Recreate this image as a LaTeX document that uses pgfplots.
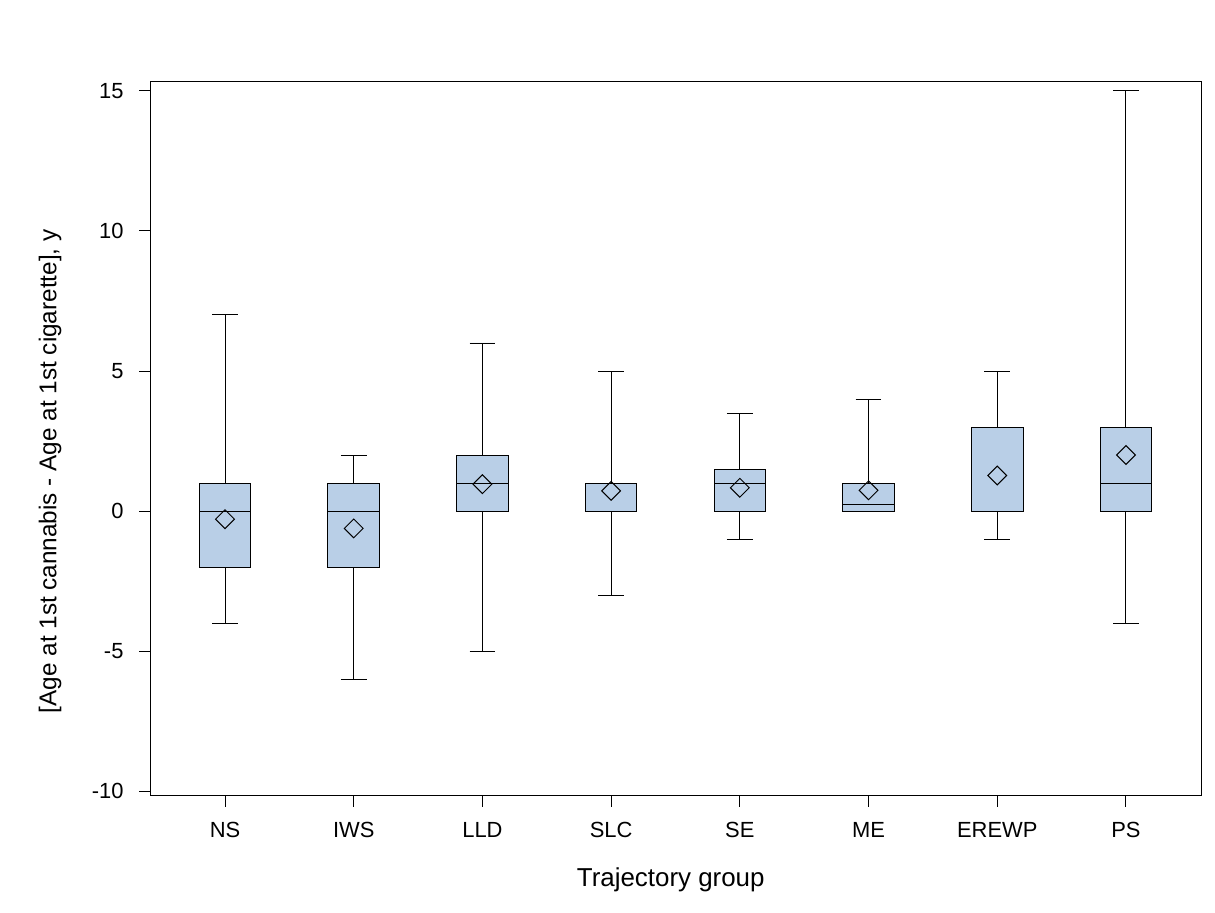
\documentclass[border=0pt]{standalone}
\usepackage{pgfplots}
\pgfplotsset{compat=1.18}
\usepgfplotslibrary{statistics}
\usepackage{fontspec}
\setmainfont{Liberation Sans}
\definecolor{boxblue}{RGB}{185,207,231}
\pgfdeclareplotmark{sqdiamond}{%
  \pgfpathmoveto{\pgfqpoint{0pt}{\pgfplotmarksize}}%
  \pgfpathlineto{\pgfqpoint{\pgfplotmarksize}{0pt}}%
  \pgfpathlineto{\pgfqpoint{0pt}{-\pgfplotmarksize}}%
  \pgfpathlineto{\pgfqpoint{-\pgfplotmarksize}{0pt}}%
  \pgfpathclose\pgfusepathqstroke}
\begin{document}
\begin{tikzpicture}
\begin{axis}[
  name=ax,
  scale only axis,
  width=525bp, height=356.5bp,
  xmin=0.425, xmax=8.583,
  ymin=-10.14, ymax=15.32,
  xtick={1,2,3,4,5,6,7,8},
  xticklabels={NS,IWS,LLD,SLC,SE,ME,EREWP,PS},
  ytick={-10,-5,0,5,10,15},
  tick align=outside,
  tick pos=left,
  major tick length=5.75bp,
  axis line style={line width=0.5pt},
  every tick/.style={black, line width=0.5pt},
  tick label style={font=\fontsize{11}{13}\selectfont},
  /pgf/number format/assume math mode=true,
  xticklabel style={yshift=-4.5bp},
  yticklabel style={xshift=-4.5bp},
  xlabel={Trajectory group},
  ylabel={[Age at 1st cannabis - Age at 1st cigarette], y},
  xlabel style={font=\fontsize{13}{15}\selectfont, at={(rel axis cs:0.495,-0.119)}, anchor=center},
  ylabel style={font=\fontsize{12.2}{15}\selectfont, at={(rel axis cs:-0.0962,0.454)}, anchor=center, rotate=0},
  boxplot/draw direction=y,
  boxplot/every average/.style={/tikz/mark=sqdiamond, /tikz/mark size=4.7bp,
     /tikz/mark options={draw=black, fill=none, solid, line width=0.5pt}},
  clip=false,
]
\addplot[draw=black, fill=boxblue, line width=0.5pt, boxplot prepared={draw position=1, lower whisker=-4, lower quartile=-2, median=0, upper quartile=1, upper whisker=7, average=-0.29, box extend=0.4, whisker extend=0.2}] coordinates {};
\addplot[draw=black, fill=boxblue, line width=0.5pt, boxplot prepared={draw position=2, lower whisker=-6, lower quartile=-2, median=0, upper quartile=1, upper whisker=2, average=-0.62, box extend=0.4, whisker extend=0.2}] coordinates {};
\addplot[draw=black, fill=boxblue, line width=0.5pt, boxplot prepared={draw position=3, lower whisker=-5, lower quartile=0, median=1, upper quartile=2, upper whisker=6, average=0.96, box extend=0.4, whisker extend=0.2}] coordinates {};
\addplot[draw=black, fill=boxblue, line width=0.5pt, boxplot prepared={draw position=4, lower whisker=-3, lower quartile=0, median=1, upper quartile=1, upper whisker=5, average=0.72, box extend=0.4, whisker extend=0.2}] coordinates {};
\addplot[draw=black, fill=boxblue, line width=0.5pt, boxplot prepared={draw position=5, lower whisker=-1, lower quartile=0, median=1, upper quartile=1.5, upper whisker=3.5, average=0.83, box extend=0.4, whisker extend=0.2}] coordinates {};
\addplot[draw=black, fill=boxblue, line width=0.5pt, boxplot prepared={draw position=6, lower whisker=0, lower quartile=0, median=0.25, upper quartile=1, upper whisker=4, average=0.74, box extend=0.4, whisker extend=0.2}] coordinates {};
\addplot[draw=black, fill=boxblue, line width=0.5pt, boxplot prepared={draw position=7, lower whisker=-1, lower quartile=0, median=0, upper quartile=3, upper whisker=5, average=1.27, box extend=0.4, whisker extend=0.2}] coordinates {};
\addplot[draw=black, fill=boxblue, line width=0.5pt, boxplot prepared={draw position=8, lower whisker=-4, lower quartile=0, median=1, upper quartile=3, upper whisker=15, average=2.0, box extend=0.4, whisker extend=0.2}] coordinates {};
\end{axis}
\path (ax.south west) ++(-75.5bp,-59bp);
\path (ax.north east) ++(7bp,41bp);
\end{tikzpicture}
\end{document}
